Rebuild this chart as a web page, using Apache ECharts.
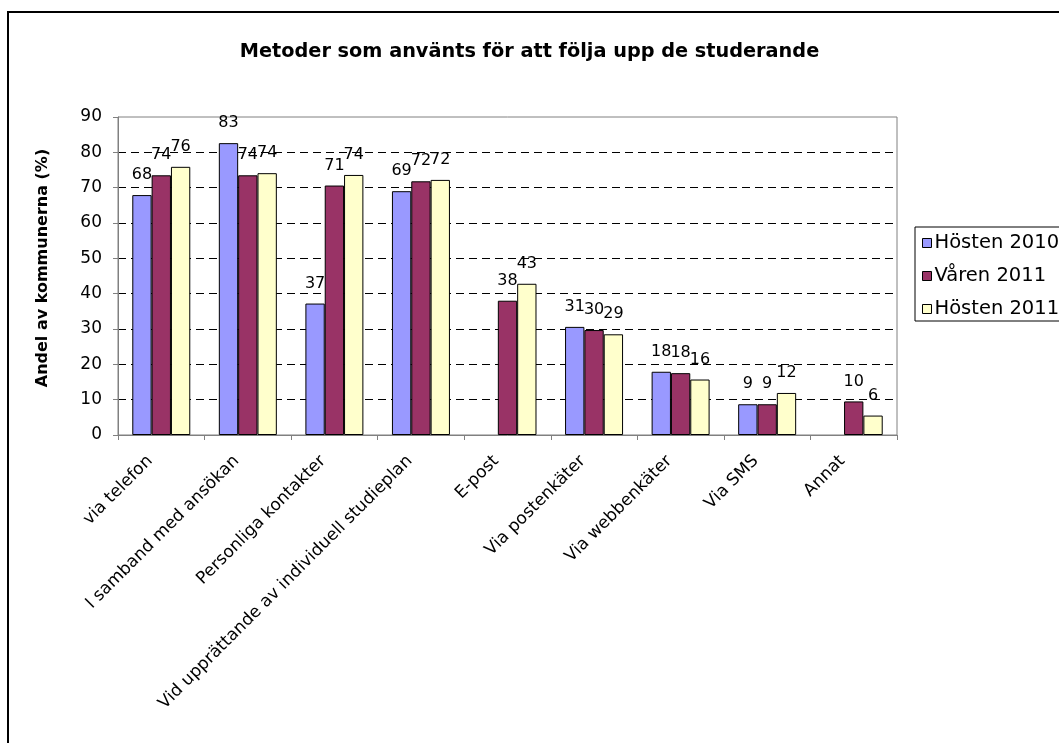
<!DOCTYPE html>
<html>
<head>
<meta charset="utf-8">
<script src="https://cdn.jsdelivr.net/npm/echarts@6/dist/echarts.min.js"></script>
<style>
html,body{margin:0;padding:0;background:#fff;}
#main{width:1059px;height:743px;}
</style>
</head>
<body>
<div id="main"></div>
<script>
const titleText = 'Metoder som använts för att följa upp de studerande';
const yAxisName = 'Andel av kommunerna (%)';
const categories = ['via telefon', 'I samband med ansökan', 'Personliga kontakter', 'Vid upprättande av individuell studieplan', 'E-post', 'Via postenkäter', 'Via webbenkäter', 'Via SMS', 'Annat'];
const seriesNames = ['Hösten 2010', 'Våren 2011', 'Hösten 2011'];
const hosten2010 = [67.9, 82.6, 37.2, 69.0, null, 30.6, 17.9, 8.7, null];
const varen2011 = [73.5, 73.5, 70.6, 71.8, 38.0, 29.7, 17.5, 8.7, 9.5];
const hosten2011 = [75.9, 74.1, 73.6, 72.2, 42.8, 28.5, 15.7, 11.9, 5.5];
const yTicks = {min: 0, max: 90, interval: 10};
const colors = ['#9999FF', '#993366', '#FFFFCC'];

const FONT = 'DejaVu Sans';
const chart = echarts.init(document.getElementById('main'), null, {renderer: 'canvas'});

function mkSeries(name, data, color) {
  return {
    name: name,
    type: 'bar',
    data: data,
    barGap: '0%',
    barCategoryGap: '33%',
    itemStyle: {color: color, borderColor: '#000', borderWidth: 1},
    label: {
      show: true,
      position: 'top',
      distance: 12,
      fontFamily: FONT,
      fontSize: 16,
      color: '#000',
      formatter: p => (p.value == null ? '' : String(Math.round(p.value)))
    },
    emphasis: {disabled: true},
    animation: false
  };
}

chart.setOption({
  backgroundColor: '#fff',
  animation: false,
  title: {
    text: titleText,
    left: 'center',
    top: 37,
    textStyle: {fontFamily: FONT, fontSize: 19.3, fontWeight: 'bold', color: '#000'}
  },
  graphic: [{
    type: 'rect',
    shape: {x: 8, y: 12, width: 1100, height: 800},
    style: {fill: 'none', stroke: '#000', lineWidth: 2},
    silent: true
  }],
  legend: {
    orient: 'vertical',
    left: 915,
    top: 227,
    padding: [6, 20, 2, 7],
    itemGap: 13,
    itemWidth: 9,
    itemHeight: 9,
    borderColor: '#000',
    borderWidth: 1,
    icon: 'rect',
    itemStyle: {borderColor: '#000', borderWidth: 1},
    textStyle: {fontFamily: FONT, fontSize: 19.5, color: '#000', padding: [0, 0, 0, -2]},
    data: seriesNames
  },
  grid: {
    left: 118, right: 162, top: 117, bottom: 308,
    show: true, borderColor: '#808080', borderWidth: 1, backgroundColor: 'transparent'
  },
  xAxis: {
    type: 'category',
    data: categories,
    axisLine: {lineStyle: {color: '#808080'}},
    axisTick: {show: true, alignWithLabel: false, length: 5, lineStyle: {color: '#808080'}},
    axisLabel: {interval: 0, rotate: 45, margin: 12, padding: [0, 16, 0, 0], fontFamily: FONT, fontSize: 17, color: '#000'}
  },
  yAxis: {
    type: 'value',
    min: yTicks.min, max: yTicks.max, interval: yTicks.interval,
    name: yAxisName,
    nameLocation: 'middle',
    nameGap: 67,
    nameTextStyle: {fontFamily: FONT, fontSize: 16, fontWeight: 'bold', color: '#000', padding: [0, 0, 0, 16]},
    axisLine: {show: true, lineStyle: {color: '#808080'}},
    axisTick: {show: true, length: 5, lineStyle: {color: '#808080'}},
    axisLabel: {margin: 16, fontFamily: FONT, fontSize: 17, color: '#000'},
    splitLine: {show: true, showMinLine: false, showMaxLine: false, lineStyle: {color: '#000', type: [8, 5], width: 1}}
  },
  series: [
    mkSeries(seriesNames[0], hosten2010, colors[0]),
    mkSeries(seriesNames[1], varen2011, colors[1]),
    mkSeries(seriesNames[2], hosten2011, colors[2])
  ]
});
</script>
</body>
</html>
